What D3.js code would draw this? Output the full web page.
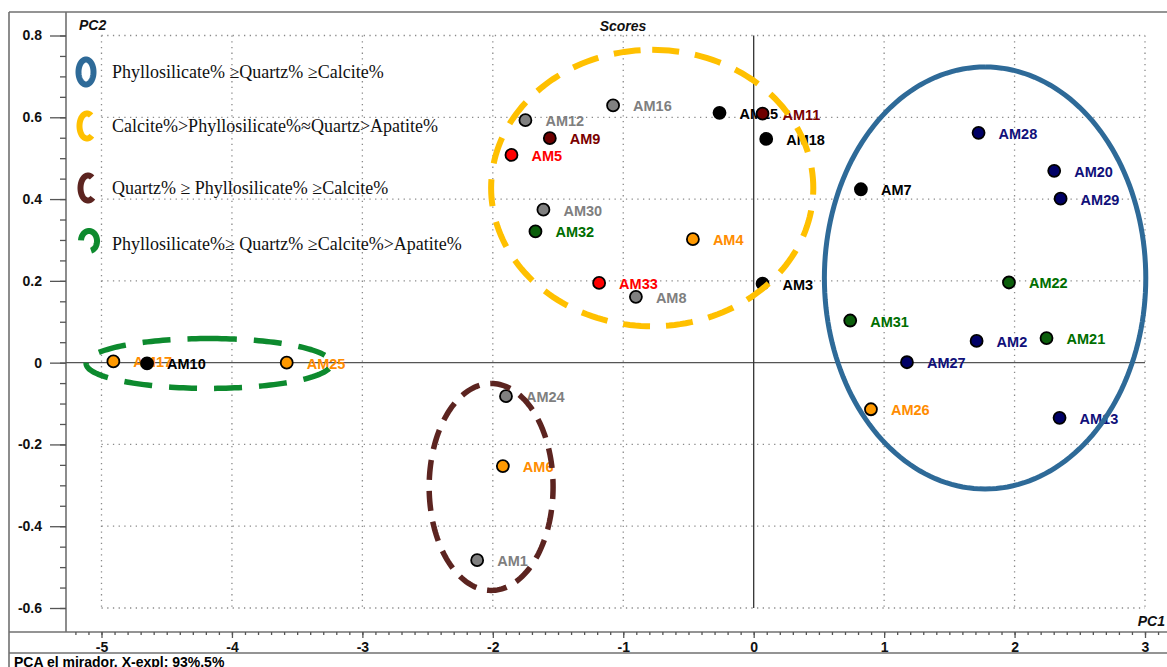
<!DOCTYPE html>
<html>
<head>
<meta charset="utf-8">
<script src="https://cdn.jsdelivr.net/npm/d3@7"></script>
<style>
  html, body { margin: 0; padding: 0; background: #fff; }
  svg { display: block; }
</style>
</head>
<body>
<svg id="chart" width="1167" height="667"></svg>
<script>
// ---- PCA scores (PC1, PC2) per sample ----
const sampleNames = ["AM17","AM10","AM25","AM24","AM6","AM1","AM12","AM16","AM9","AM5",
  "AM30","AM32","AM4","AM33","AM8","AM15","AM11","AM18","AM3","AM28",
  "AM20","AM29","AM7","AM22","AM31","AM2","AM21","AM27","AM26","AM13"];
const pc1Scores = [-4.909,-4.651,-3.580,-1.899,-1.923,-2.120,-1.750,-1.078,-1.563,-1.857,
  -1.612,-1.673,-0.466,-1.185,-0.903,-0.262,0.068,0.096,0.068,1.724,
  2.304,2.353,0.822,1.957,0.740,1.709,2.245,1.175,0.899,2.345];
const pc2Scores = [0.003,-0.002,0.000,-0.082,-0.253,-0.483,0.593,0.629,0.549,0.508,
  0.374,0.321,0.302,0.195,0.161,0.611,0.609,0.547,0.193,0.562,
  0.469,0.401,0.424,0.196,0.103,0.053,0.060,0.001,-0.114,-0.135];
const sampleGroups = ["orange","black","orange","gray","orange","gray","gray","gray","maroon","red",
  "gray","green","orange","red","gray","black","maroon","black","black","navy",
  "navy","navy","black","green","green","navy","green","navy","orange","navy"];

// ---- axes ----
const xTicks = [-5,-4,-3,-2,-1,0,1,2,3];
const yTicks = [-0.6,-0.4,-0.2,0,0.2,0.4,0.6,0.8];

// ---- mineral-composition clusters (centre and semi-axes in score units) ----
const clusterNames = ["Phyllosilicate% \u2265Quartz% \u2265Calcite%",
  "Calcite%>Phyllosilicate%\u2248Quartz>Apatite%",
  "Quartz% \u2265 Phyllosilicate% \u2265Calcite%",
  "Phyllosilicate%\u2265 Quartz% \u2265Calcite%>Apatite%"];
const clusterCx = [1.774, -0.778, -2.013, -4.177];
const clusterCy = [0.207, 0.427, -0.304, -0.002];
const clusterRx = [1.232, 1.235, 0.475, 0.941];
const clusterRy = [0.516, 0.338, 0.253, 0.061];

// ---- styling ----
const dotFill = { black:"#000000", gray:"#808080", orange:"#ff9900", red:"#ff0000",
  maroon:"#6e0000", green:"#0b5e0b", navy:"#000066" };
const labelFill = { black:"#000000", gray:"#7f7f7f", orange:"#ff8c00", red:"#ff0000",
  maroon:"#7a0000", green:"#006e00", navy:"#10107a" };
const clusterStroke = ["#2e6a98", "#ffc000", "#5c2420", "#0d8a2e"];
const clusterDash = [null, "27,16", "20,11", "28,17"];
const clusterWidth = [5, 6, 5.5, 5.5];

const svg = d3.select("#chart");
const W = 1167, H = 667;
const frameLeft = 9, frameTop = 12, axisX = 66, axisY = 632, footerY = 653;

const x = d3.scaleLinear().domain([-5, 3]).range([101.5, 1145]);
const y = d3.scaleLinear().domain([-0.6, 0.8]).range([608, 35.5]);

// frame
const frame = svg.append("g").attr("stroke", "#707070").attr("stroke-width", 1.6);
frame.append("line").attr("x1", frameLeft).attr("x2", W).attr("y1", frameTop).attr("y2", frameTop);
frame.append("line").attr("x1", frameLeft).attr("x2", frameLeft).attr("y1", frameTop).attr("y2", H);
frame.append("line").attr("x1", frameLeft).attr("x2", W).attr("y1", footerY).attr("y2", footerY);
frame.append("line").attr("x1", frameLeft).attr("x2", W).attr("y1", axisY).attr("y2", axisY);
frame.append("line").attr("x1", axisX).attr("x2", axisX).attr("y1", frameTop).attr("y2", axisY);

// dotted grid
const grid = svg.append("g").attr("stroke", "#8a8a8a").attr("stroke-width", 1.3)
  .attr("stroke-dasharray", "1.3,4.4");
grid.selectAll(".gv").data(xTicks.filter(d => d !== 0)).join("line")
  .attr("x1", d => x(d)).attr("x2", d => x(d))
  .attr("y1", y(0.8)).attr("y2", y(-0.6));
grid.selectAll(".gh").data(yTicks.filter(d => d !== 0)).join("line")
  .attr("x1", x(-5)).attr("x2", x(3))
  .attr("y1", d => y(d)).attr("y2", d => y(d));

// zero lines
svg.append("line").attr("x1", axisX).attr("x2", x(3)).attr("y1", y(0)).attr("y2", y(0))
  .attr("stroke", "#555").attr("stroke-width", 1.3);
svg.append("line").attr("x1", x(0)).attr("x2", x(0)).attr("y1", y(0.8)).attr("y2", y(-0.6))
  .attr("stroke", "#333").attr("stroke-width", 1.3);

// y axis
const fmt = d => d === 0 ? "0" : d3.format(".1f")(d).replace("\u2212", "-");
const yMinor = d3.range(-0.6, 0.8001, 0.05).map(v => +v.toFixed(2));
svg.append("g").attr("transform", `translate(${axisX},0)`)
  .call(d3.axisLeft(y).tickValues(yMinor).tickSize(6).tickFormat(""))
  .call(g => g.select(".domain").remove())
  .call(g => g.selectAll("line").attr("stroke", "#555").attr("stroke-width", 1.3));
svg.append("g").attr("transform", `translate(${axisX},0)`)
  .call(d3.axisLeft(y).tickValues(yTicks).tickSize(16).tickPadding(8).tickFormat(fmt))
  .call(g => g.select(".domain").remove())
  .call(g => g.selectAll("line").attr("stroke", "#555").attr("stroke-width", 1.3))
  .call(g => g.selectAll("text").attr("font-family", "Liberation Sans, Arial, sans-serif")
    .attr("font-size", 14).attr("font-weight", "bold").attr("fill", "#111"));

// x axis
const xMinor = d3.range(-5.2, 3.201, 0.1).map(v => +v.toFixed(1));
svg.append("g").attr("transform", `translate(0,${axisY})`)
  .call(d3.axisBottom(x).tickValues(xMinor).tickSize(3).tickFormat(""))
  .call(g => g.select(".domain").remove())
  .call(g => g.selectAll("line").attr("stroke", "#555").attr("stroke-width", 1.3));
svg.append("g").attr("transform", `translate(0,${axisY})`)
  .call(d3.axisBottom(x).tickValues(xTicks).tickSize(6).tickPadding(4)
    .tickFormat(d => String(d)))
  .call(g => g.select(".domain").remove())
  .call(g => g.selectAll("line").attr("stroke", "#555").attr("stroke-width", 1.3))
  .call(g => g.selectAll("text").attr("font-family", "Liberation Sans, Arial, sans-serif")
    .attr("font-size", 14).attr("font-weight", "bold").attr("fill", "#111"));

// titles
const sans = "Liberation Sans, Arial, sans-serif";
svg.append("text").attr("x", 79).attr("y", 30).text("PC2")
  .attr("font-family", sans).attr("font-size", 14).attr("font-weight", "bold")
  .attr("font-style", "italic").attr("fill", "#111");
svg.append("text").attr("x", 623).attr("y", 31).attr("text-anchor", "middle").text("Scores")
  .attr("font-family", sans).attr("font-size", 14).attr("font-weight", "bold")
  .attr("font-style", "italic").attr("fill", "#111");
svg.append("text").attr("x", 1165).attr("y", 626).attr("text-anchor", "end").text("PC1")
  .attr("font-family", sans).attr("font-size", 14).attr("font-weight", "bold")
  .attr("font-style", "italic").attr("fill", "#111");
svg.append("text").attr("x", 14).attr("y", 666.5).text("PCA el mirador, X-expl: 93%,5%")
  .attr("font-family", sans).attr("font-size", 14).attr("font-weight", "bold").attr("fill", "#000");

// sample records
const samples = sampleNames.map((name, i) => ({
  name, pc1: pc1Scores[i], pc2: pc2Scores[i], group: sampleGroups[i]
}));

// labels beneath the markers
svg.append("g").selectAll("text").data(samples).join("text")
  .attr("x", d => x(d.pc1) + 20)
  .attr("y", d => y(d.pc2) + 6)
  .text(d => d.name)
  .attr("font-family", sans).attr("font-size", 14.5).attr("font-weight", "bold")
  .attr("fill", d => labelFill[d.group]);

// markers
svg.append("g").selectAll("circle").data(samples).join("circle")
  .attr("cx", d => x(d.pc1)).attr("cy", d => y(d.pc2)).attr("r", 6)
  .attr("fill", d => dotFill[d.group])
  .attr("stroke", "#000").attr("stroke-width", 1.8);

// cluster outlines
const ellipsePath = (cx, cy, rx, ry, a0, a1) => {
  const pts = d3.range(0, 181).map(k => {
    const t = a0 + (a1 - a0) * k / 180;
    return [cx + rx * Math.cos(t), cy + ry * Math.sin(t)];
  });
  return d3.line()(pts);
};
svg.append("g").selectAll("path").data(clusterNames).join("path")
  .attr("d", (d, i) => {
    const cx = x(clusterCx[i]), cy = y(clusterCy[i]);
    const rx = x(clusterCx[i] + clusterRx[i]) - cx;
    const ry = cy - y(clusterCy[i] + clusterRy[i]);
    return ellipsePath(cx, cy, rx, ry, -Math.PI / 2, 1.5 * Math.PI);
  })
  .attr("fill", "none")
  .attr("stroke", (d, i) => clusterStroke[i])
  .attr("stroke-width", (d, i) => clusterWidth[i])
  .attr("stroke-dasharray", (d, i) => clusterDash[i]);

// legend: small outline glyph + description
const legendY = [72, 126, 188, 244];
const legendArcs = [[0, 2 * Math.PI], [-1.0, -5.4], [-1.0, -5.4], [3.2, 7.6]];
const legendCx = [86, 87, 88, 89];
const legendG = svg.append("g");
clusterNames.forEach((name, i) => {
  const [a0, a1] = legendArcs[i];
  legendG.append("path")
    .attr("d", ellipsePath(legendCx[i], legendY[i] + (i === 3 ? -3 : 0), i === 3 ? 8 : 7.5,
      i === 3 ? 10 : 12.5, a0, a1))
    .attr("fill", "none").attr("stroke", clusterStroke[i]).attr("stroke-width", 6);
  legendG.append("text").attr("x", 112).attr("y", legendY[i] + 6).text(name)
    .attr("font-family", "Liberation Serif, Times New Roman, serif")
    .attr("font-size", 18).attr("fill", "#111");
});
</script>
</body>
</html>
